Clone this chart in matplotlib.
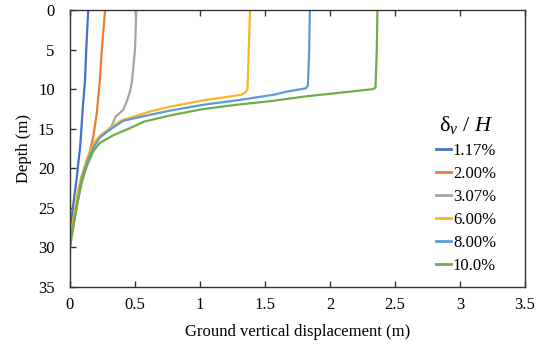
import matplotlib
matplotlib.use('Agg')
import matplotlib.pyplot as plt

plt.rcParams['font.family'] = ['Liberation Serif', 'DejaVu Serif']
plt.rcParams['mathtext.fontset'] = 'custom'
plt.rcParams['mathtext.rm'] = 'Liberation Serif'
plt.rcParams['mathtext.it'] = 'Liberation Serif:italic'

# series labels and colours
labels = ['1.17%', '2.00%', '3.07%', '6.00%', '8.00%', '10.0%']
colors = ['#4472C4', '#ED7D31', '#A5A5A5', '#F8B526', '#5B9BD5', '#70AD47']

# depth (m) and vertical displacement (m)
d_117 = [0, 5, 8.8, 12, 17.3, 21.4, 25, 28.5]
x_117 = [0.14, 0.125, 0.116, 0.10, 0.078, 0.05, 0.022, 0.0]

d_200 = [0, 5, 8.8, 12.9, 15.9, 17.7, 18.5, 20, 22, 25, 28.5]
x_200 = [0.27, 0.245, 0.23, 0.207, 0.18, 0.155, 0.145, 0.115, 0.085,
         0.045, 0.0]

d_307 = [0, 5, 8.8, 10.1, 11.4, 12.6, 13.5, 14.7, 15.2, 15.9, 16.9,
         18.4, 20.9, 22.6, 25, 29]
x_307 = [0.51, 0.50, 0.478, 0.465, 0.44, 0.41, 0.35, 0.32, 0.29, 0.235,
         0.185, 0.143, 0.092, 0.066, 0.042, 0.0]

d_600 = [0, 5, 10, 10.4, 10.7, 10.9, 11.4, 12.2, 12.8, 13.6, 14.0, 14.9,
         15.9, 16.9, 18.4, 20.9, 22.6, 25, 29]
x_600 = [1.385, 1.375, 1.365, 1.35, 1.32, 1.24, 1.03, 0.775, 0.62, 0.465,
         0.39, 0.31, 0.23, 0.18, 0.14, 0.09, 0.065, 0.04, 0.0]

d_800 = [0, 5, 9.5, 9.9, 10.3, 10.7, 11.0, 11.4, 11.96, 12.7, 13.4, 14.0,
         15.1, 16.1, 17.4, 18.8, 21.4, 25, 29.5]
x_800 = [1.845, 1.84, 1.83, 1.815, 1.67, 1.57, 1.45, 1.29, 1.03, 0.775,
         0.57, 0.41, 0.31, 0.23, 0.18, 0.14, 0.09, 0.05, 0.0]

d_1000 = [0, 5, 9.8, 10.0, 10.5, 10.9, 11.5, 11.96, 12.5, 13.3, 14.1, 14.9,
          15.8, 16.8, 17.8, 19.7, 21.8, 25, 27.4, 30]
x_1000 = [2.365, 2.36, 2.35, 2.33, 2.05, 1.82, 1.55, 1.29, 1.03, 0.775,
          0.57, 0.465, 0.336, 0.23, 0.18, 0.13, 0.09, 0.05, 0.026, 0.0]

depths = [d_117, d_200, d_307, d_600, d_800, d_1000]
disps = [x_117, x_200, x_307, x_600, x_800, x_1000]

x_ticks = [0, 0.5, 1, 1.5, 2, 2.5, 3, 3.5]
x_ticklabels = ['0', '0.5', '1', '1.5', '2', '2.5', '3', '3.5']
y_ticks = [0, 5, 10, 15, 20, 25, 30, 35]

fig = plt.figure(figsize=(5.42, 3.45), dpi=100)
ax = fig.add_axes([70 / 542, 1 - 287 / 345, 455 / 542, 277 / 345])

for d, x, c, lab in zip(depths, disps, colors, labels):
    ax.plot(x, d, color=c, lw=1.6, label=lab)

ax.set_xlim(0, 3.5)
ax.set_ylim(35, 0)
ax.set_xticks(x_ticks)
ax.set_xticklabels(x_ticklabels)
ax.set_yticks(y_ticks)
ax.tick_params(axis='x', direction='in', top=True, length=4, width=1,
               color='#333333', labelsize=12, pad=7)
ax.tick_params(axis='y', direction='in', length=4, width=1,
               color='#333333', labelsize=12, pad=11)
for s in ax.spines.values():
    s.set_color('#333333')
    s.set_linewidth(1.0)

ax.set_xlabel('Ground vertical displacement (m)', fontsize=12, labelpad=8)
ax.set_ylabel('Depth (m)', fontsize=12, labelpad=4)

leg = ax.legend(loc='upper right', bbox_to_anchor=(508 / 542, 1 - 102 / 345),
                bbox_transform=fig.transFigure, frameon=False, fontsize=12,
                handlelength=0.9, handletextpad=0.1, labelspacing=0.42,
                title=r'δ$_{\mathit{v}}$ / $\mathit{H}$',
                title_fontsize=16, borderpad=0.2)
for h in leg.get_lines():
    h.set_linewidth(2.0)

fig.savefig('out.png', dpi=100)
